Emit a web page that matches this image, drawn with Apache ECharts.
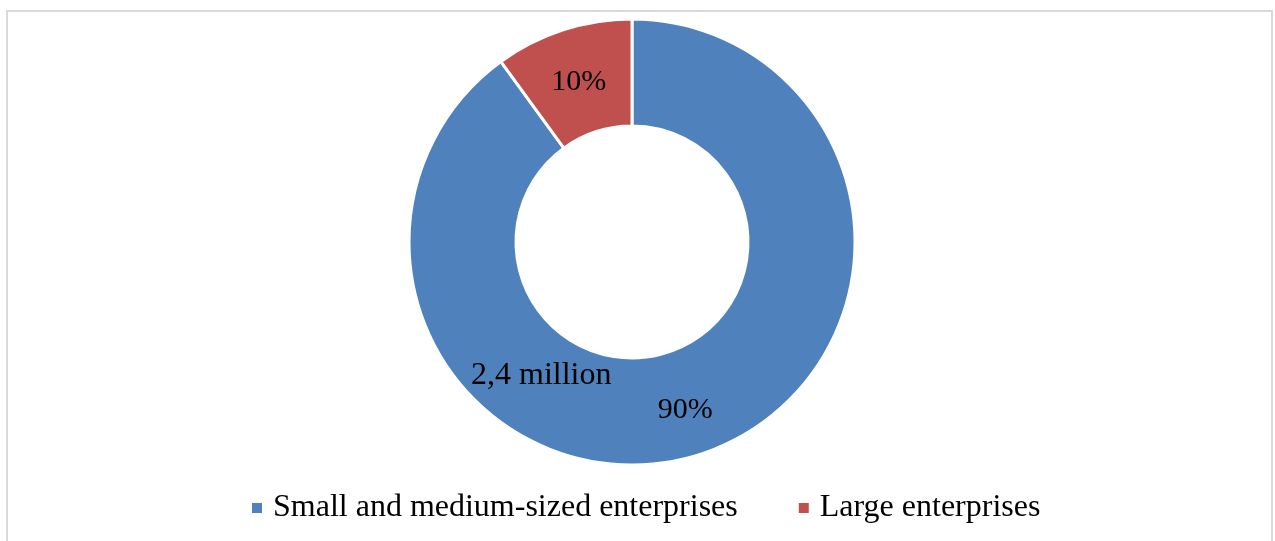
<!DOCTYPE html>
<html>
<head>
<meta charset="utf-8">
<script src="https://cdn.jsdelivr.net/npm/echarts@6/dist/echarts.min.js"></script>
<style>
  html, body { margin: 0; padding: 0; background: #fff; }
  #chart { width: 1275px; height: 541px; }
</style>
</head>
<body>
<div id="chart"></div>
<script>
// data
const categories = ['Small and medium-sized enterprises', 'Large enterprises'];
const shares = [90, 10];
const colors = ['#4f81bd', '#c0504d'];
const smeNote = '2,4 million';

const chart = echarts.init(document.getElementById('chart'));

const option = {
  backgroundColor: '#fff',
  color: colors,
  graphic: [
    {
      // outer frame
      type: 'rect',
      silent: true,
      shape: { x: 7, y: 11, width: 1265, height: 545 },
      style: { fill: 'none', stroke: '#d9d9d9', lineWidth: 2 },
    },
    {
      // note on the SME slice
      type: 'text',
      left: 471,
      top: 360,
      z: 100,
      style: {
        text: smeNote,
        font: '32px "Liberation Serif"',
        fill: '#000',
      },
    },
  ],
  legend: {
    data: categories,
    bottom: 12,
    left: 247,
    icon: 'rect',
    itemWidth: 10,
    itemHeight: 10,
    itemGap: 61,
    itemStyle: { borderWidth: 0 },
    textStyle: {
      fontFamily: 'Liberation Serif',
      fontSize: 32,
      color: '#000',
      padding: [0, 0, 0, 6],
    },
  },
  series: [
    {
      type: 'pie',
      center: [632, 242],
      radius: [116, 223],
      startAngle: 90,
      clockwise: true,
      silent: true,
      itemStyle: { borderColor: '#fff', borderWidth: 3 },
      label: {
        show: true,
        position: 'inside',
        formatter: '{c}%',
        fontFamily: 'Liberation Serif',
        fontSize: 30,
        color: '#000',
        offset: [0, 4],
      },
      labelLine: { show: false },
      data: categories.map((name, i) => ({ name, value: shares[i] })),
    },
  ],
};

chart.setOption(option);
</script>
</body>
</html>
